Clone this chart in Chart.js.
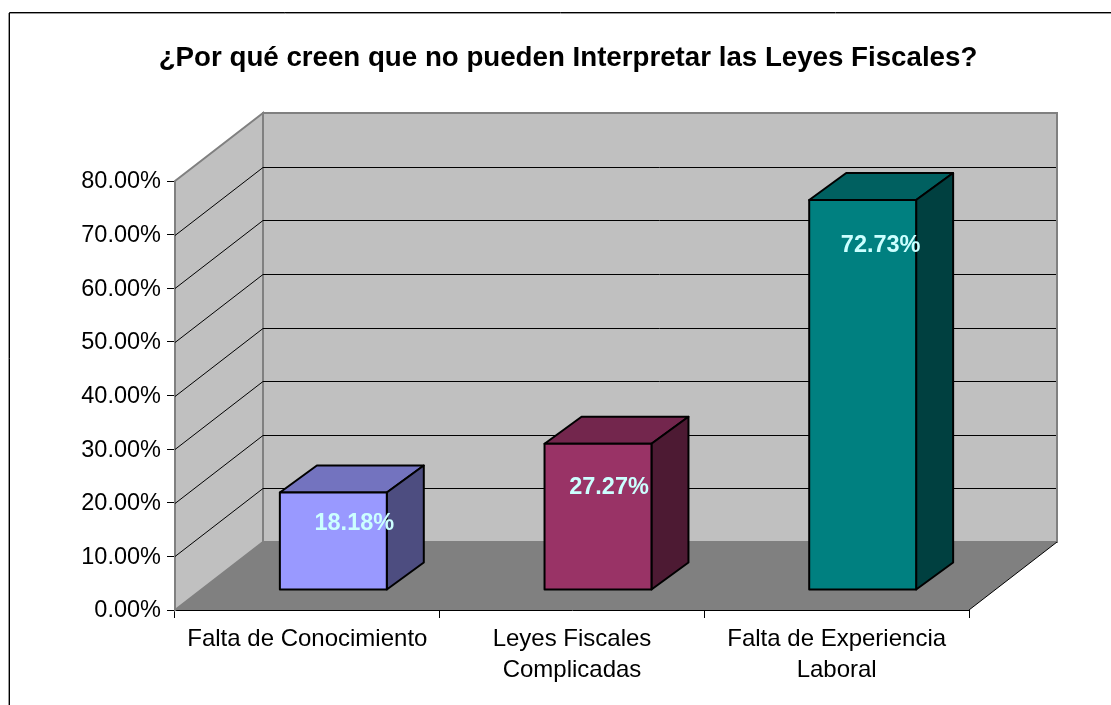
<!DOCTYPE html>
<html>
<head>
<meta charset="utf-8">
<style>html,body{margin:0;padding:0;background:#fff}#w{width:1111px;height:705px;position:relative}</style>
<script src="https://cdn.jsdelivr.net/npm/chart.js@4"></script>
</head>
<body>
<div id="w"><canvas id="c" width="1111" height="705"></canvas></div>
<script>
const titleText = "¿Por qué creen que no pueden Interpretar las Leyes Fiscales?";
const categories = [["Falta de Conocimiento"], ["Leyes Fiscales", "Complicadas"], ["Falta de Experiencia", "Laboral"]];
const values = [18.18, 27.27, 72.73];
const frontColors = ["#9999FF", "#993366", "#008080"];
const topColors = ["#7373BF", "#73264D", "#006060"];
const sideColors = ["#4D4D80", "#4D1A33", "#004040"];
const labelColor = "#CCFFFF";
const FONT = '"Liberation Sans", Arial, sans-serif';

// oblique projection of the 3D chart (pixels)
const WALL = {dx: 88, dy: -68};
const BAR = {shiftX: 26, shiftY: -20, dx: 37, dy: -27};
const LABEL_SHIFT = [[47, 11.5], [37, 24], [44, 26]];

function poly(ctx, pts, fill, stroke, lw) {
  ctx.beginPath();
  pts.forEach((p, i) => i ? ctx.lineTo(p[0], p[1]) : ctx.moveTo(p[0], p[1]));
  ctx.closePath();
  if (fill) { ctx.fillStyle = fill; ctx.fill(); }
  if (stroke) { ctx.strokeStyle = stroke; ctx.lineWidth = lw; ctx.stroke(); }
}

const scene3d = {
  id: "scene3d",
  beforeDraw(chart) {
    const t = chart.titleBlock;
    if (t) { t.left = 25; t.right = 1111; }
    const ctx = chart.ctx;
    ctx.save();
    ctx.lineWidth = 1;
    ctx.strokeStyle = "#999";
    ctx.beginPath(); ctx.moveTo(8.5, 705); ctx.lineTo(8.5, 13); ctx.moveTo(10, 13.5); ctx.lineTo(1111, 13.5); ctx.stroke();
    ctx.strokeStyle = "#000";
    ctx.beginPath(); ctx.moveTo(9.5, 705); ctx.lineTo(9.5, 12.5); ctx.lineTo(1111, 12.5); ctx.stroke();
    ctx.restore();
  },
  beforeDatasetsDraw(chart) {
    const ctx = chart.ctx, a = chart.chartArea, y = chart.scales.y;
    const {dx, dy} = WALL;
    ctx.save();
    // side wall, back wall, floor
    poly(ctx, [[a.left, a.top], [a.left + dx, a.top + dy], [a.left + dx, a.bottom + dy], [a.left, a.bottom]], "#C0C0C0", "#808080", 2);
    poly(ctx, [[a.left + dx, a.top + dy], [a.right + dx, a.top + dy], [a.right + dx, a.bottom + dy], [a.left + dx, a.bottom + dy]], "#C0C0C0", "#808080", 2);
    poly(ctx, [[a.left, a.bottom], [a.left + dx, a.bottom + dy], [a.right + dx, a.bottom + dy], [a.right, a.bottom]], "#808080", null, 0);
    // floor front-right diagonal
    ctx.strokeStyle = "#000"; ctx.lineWidth = 1;
    ctx.beginPath(); ctx.moveTo(a.right, a.bottom); ctx.lineTo(a.right + dx, a.bottom + dy); ctx.stroke();
    // gridlines through side and back walls
    y.ticks.forEach(t => {
      if (t.value === y.min || t.value === y.max) return;
      const py = Math.round(y.getPixelForValue(t.value)) + 0.5;
      ctx.strokeStyle = "#000"; ctx.lineWidth = 1;
      ctx.beginPath();
      ctx.moveTo(a.left, py);
      ctx.lineTo(a.left + dx, py + dy);
      ctx.lineTo(a.right + dx - 1, py + dy);
      ctx.stroke();
    });
    // 3D faces of bars (tops and sides), behind the library's front faces
    ctx.translate(BAR.shiftX, BAR.shiftY);
    ctx.lineJoin = "round";
    chart.getDatasetMeta(0).data.forEach((b, i) => {
      const l = b.x - b.width / 2, r = b.x + b.width / 2, t = b.y, bt = b.base;
      poly(ctx, [[l, t], [l + BAR.dx, t + BAR.dy], [r + BAR.dx, t + BAR.dy], [r, t]], topColors[i], "#000", 2);
      poly(ctx, [[r, t], [r + BAR.dx, t + BAR.dy], [r + BAR.dx, bt + BAR.dy], [r, bt]], sideColors[i], "#000", 2);
    });
    ctx.restore();
    // shift the library-drawn front faces into the middle of the depth
    ctx.save();
    ctx.translate(BAR.shiftX, BAR.shiftY);
  },
  afterDatasetsDraw(chart) {
    const ctx = chart.ctx, bars = chart.getDatasetMeta(0).data;
    // outline of the front faces, centred on their edges
    ctx.strokeStyle = "#000"; ctx.lineWidth = 2; ctx.lineJoin = "round";
    bars.forEach(b => {
      ctx.strokeRect(b.x - b.width / 2, b.y, b.width, b.base - b.y);
    });
    ctx.restore();
    ctx.save();
    ctx.fillStyle = labelColor;
    ctx.font = "bold 23.5px " + FONT;
    ctx.textAlign = "center";
    ctx.textBaseline = "middle";
    bars.forEach((b, i) => {
      ctx.fillText(values[i].toFixed(2) + "%", b.x + LABEL_SHIFT[i][0], b.y + LABEL_SHIFT[i][1]);
    });
    ctx.restore();
  }
};

new Chart(document.getElementById("c"), {
  type: "bar",
  data: {
    labels: categories,
    datasets: [{
      data: values,
      backgroundColor: frontColors,
      borderWidth: 0,
      barPercentage: 0.404,
      categoryPercentage: 1
    }]
  },
  options: {
    responsive: false,
    animation: false,
    layout: {padding: {left: 0, right: 142, top: 0, bottom: 0}},
    plugins: {
      legend: {display: false},
      tooltip: {enabled: false},
      title: {
        display: true, text: titleText, color: "#000",
        font: {family: FONT, size: 27.7, weight: "bold", lineHeight: 1.2},
        padding: {top: 41.4, bottom: 181 - 41.4 - 33.24}
      }
    },
    scales: {
      x: {
        grid: {display: true, drawOnChartArea: false, drawTicks: true, tickLength: 8, color: "#000", offset: true},
        border: {display: true, color: "#000", width: 1},
        ticks: {color: "#000", font: {family: FONT, size: 24, lineHeight: 1.29}, padding: 6, maxRotation: 0, autoSkip: false},
        afterFit(s) { s.height = 95; }
      },
      y: {
        min: 0, max: 80,
        grid: {display: true, drawOnChartArea: false, drawTicks: true, tickLength: 8, color: "#000"},
        border: {display: true, color: "#000", width: 1},
        ticks: {stepSize: 10, color: "#000", font: {family: FONT, size: 23.5}, padding: 6, labelOffset: 1, callback: v => v.toFixed(2) + "%"},
        afterFit(s) { s.width = 175; }
      }
    }
  },
  plugins: [scene3d]
});
</script>
</body>
</html>
